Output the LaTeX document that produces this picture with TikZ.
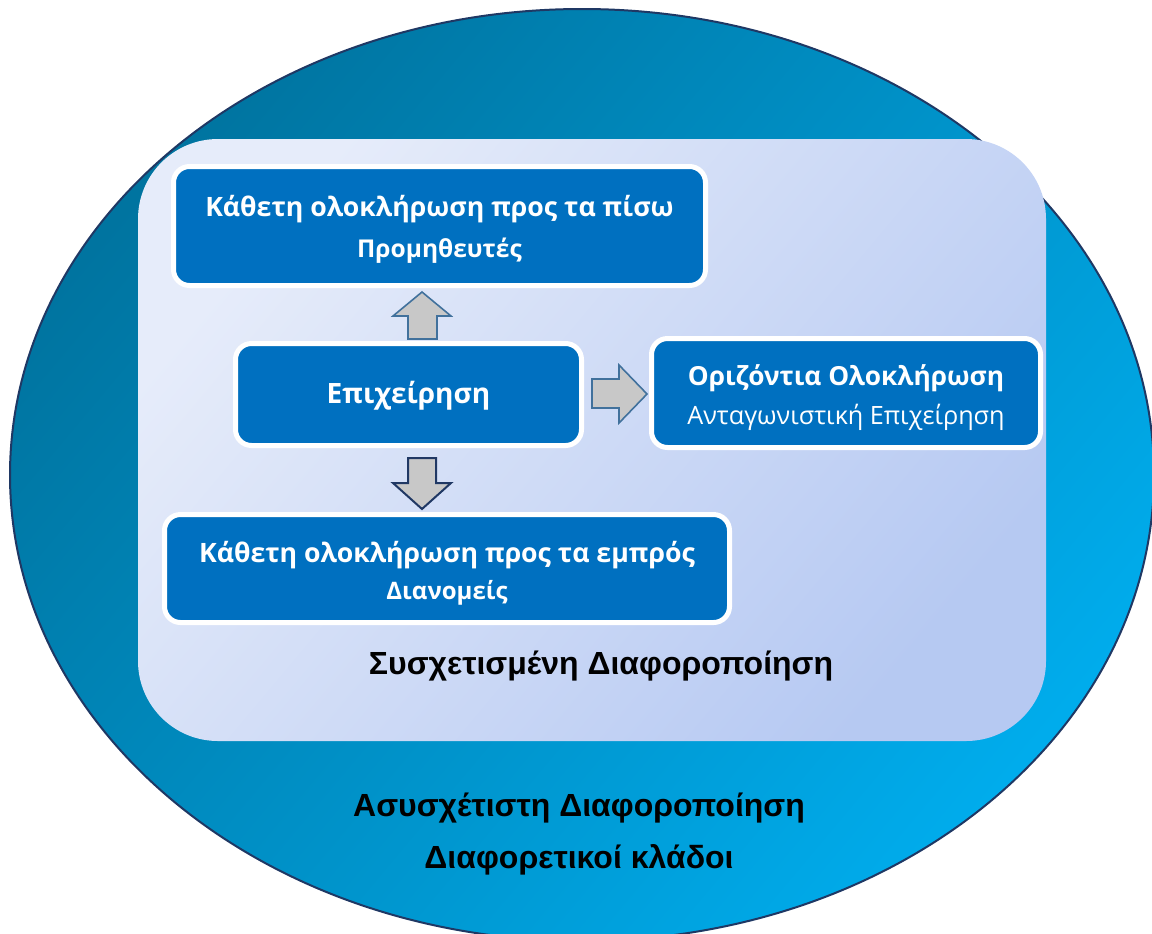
\documentclass[tikz,border=0pt]{standalone}
\usepackage{fontspec}
\setmainfont{Open Sans}
\newfontfamily\labelfont{Liberation Sans}
\usetikzlibrary{calc}
\definecolor{ringdark}{RGB}{0,116,160}
\definecolor{ringlight}{RGB}{0,172,236}
\definecolor{ringline}{RGB}{31,56,100}
\definecolor{panellight}{RGB}{230,236,250}
\definecolor{paneldark}{RGB}{182,201,242}
\definecolor{boxblue}{RGB}{0,112,192}
\definecolor{arrowfill}{RGB}{200,200,200}
\definecolor{arrowline}{RGB}{65,113,156}
\definecolor{arrowdark}{RGB}{32,56,100}
\tikzset{
  bluebox/.style={draw=white, line width=3.75pt, fill=boxblue, rounded corners=12pt,
    text=white, align=center, inner sep=0pt},
  blockarrow/.style={fill=arrowfill, draw=arrowline, line width=1.2pt, line join=miter},
  blockarrowdark/.style={blockarrow, draw=arrowdark, line width=1.5pt},
  titletext/.style={font=\bfseries\fontsize{20}{24}\selectfont, text=white},
  outertext/.style={font=\labelfont\bfseries\fontsize{24}{29}\selectfont, text=black}
}
\begin{document}
\begin{tikzpicture}[x=0.75pt,y=-0.75pt]
\useasboundingbox (0,0) rectangle (1152,933);
% outer ring: unrelated diversification
\shade[top color=ringdark, bottom color=ringlight, shading angle=50]
  (582,475) ellipse [x radius=572, y radius=466];
\draw[ringline, line width=1.5pt] (582,475) ellipse [x radius=572, y radius=466];
% inner panel: related diversification
\shade[top color=panellight, bottom color=paneldark, shading angle=50, rounded corners=60pt]
  (138,139) rectangle (1046,741);

% boxes
\node[bluebox, minimum width=532*0.75pt, minimum height=119*0.75pt] (back) at (439.5,226) {};
\node[titletext] (backt) at (439.5,209) {Κάθετη ολοκλήρωση προς τα πίσω};
\node[font=\bfseries\fontsize{18.4}{22}\selectfont, text=white] (backs) at (439.5,251) {Προμηθευτές};

\node[bluebox, minimum width=346*0.75pt, minimum height=102*0.75pt] (firm) at (408.5,394.5) {};
\node[font=\bfseries\fontsize{21}{26}\selectfont, text=white] (firmt) at (408.5,396) {Επιχείρηση};

\node[bluebox, minimum width=389*0.75pt, minimum height=109*0.75pt] (horiz) at (846,393) {};
\node[font=\bfseries\fontsize{19.7}{24}\selectfont, text=white] (horizt) at (846,378) {Οριζόντια Ολοκλήρωση};
\node[font=\fontsize{18.9}{23}\selectfont, text=white] (horizs) at (846,417) {Ανταγωνιστική Επιχείρηση};

\node[bluebox, minimum width=565*0.75pt, minimum height=108*0.75pt] (fwd) at (447,568.5) {};
\node[titletext] (fwdt) at (447,555) {Κάθετη ολοκλήρωση προς τα εμπρός};
\node[font=\bfseries\fontsize{18}{22}\selectfont, text=white] (fwds) at (447,593) {Διανομείς};

% block arrows between the boxes
\draw[blockarrow] (422,292) -- (393,316) -- (408,316) -- (408,339) -- (437,339) -- (437,316) -- (451,316) -- cycle;
\draw[blockarrow] (647,394) -- (619,365) -- (619,379) -- (592,379) -- (592,408) -- (619,408) -- (619,423) -- cycle;
\draw[blockarrowdark] (422,509) -- (393,483) -- (408,483) -- (408,458) -- (436,458) -- (436,483) -- (451,483) -- cycle;

% labels of the two rings
\node[outertext] (related) at (601,666) {Συσχετισμένη Διαφοροποίηση};
\node[outertext] (unrelated) at (579,808) {Ασυσχέτιστη Διαφοροποίηση};
\node[outertext] (branches) at (579,860) {Διαφορετικοί κλάδοι};
\end{tikzpicture}
\end{document}
